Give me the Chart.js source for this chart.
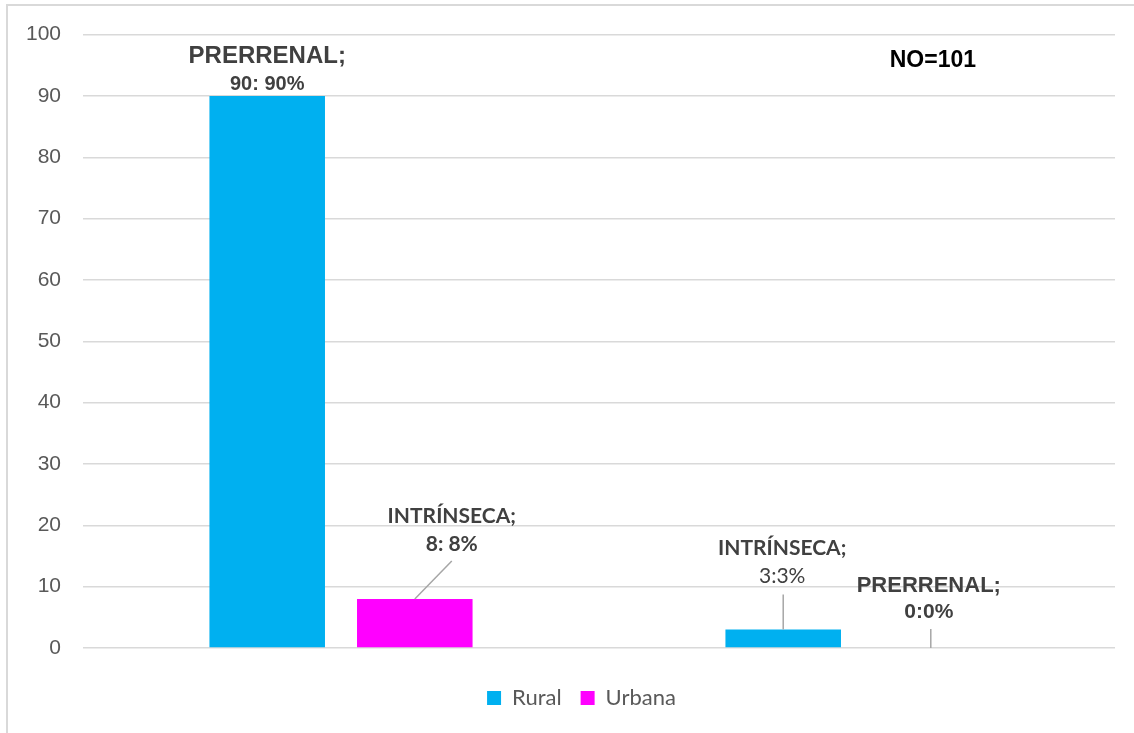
<!DOCTYPE html>
<html>
<head>
<meta charset="utf-8">
<script src="https://cdn.jsdelivr.net/npm/chart.js@4.4.1/dist/chart.umd.min.js"></script>
<style>
  html, body { margin: 0; padding: 0; background: #fff; overflow: hidden; }
  #wrap { position: relative; width: 1134px; height: 733px; }
  #frame {
    position: absolute; left: 6px; top: 4px; width: 1200px; height: 800px;
    border-left: 2px solid #d9d9d9; border-top: 2px solid #d9d9d9;
    pointer-events: none;
  }
</style>
</head>
<body>
<div id="wrap">
  <canvas id="chart" width="1134" height="733"></canvas>
  <div id="frame"></div>
</div>
<script>
  const grupos = ['Grupo 1', 'Grupo 2'];
  const rural = [90, 3];
  const urbana = [8, 0];
  const ruralPct = [90, 3];
  const urbanaPct = [8, 0];
  const ruralTipo = ['PRERRENAL', 'INTRÍNSECA'];
  const urbanaTipo = ['INTRÍNSECA', 'PRERRENAL'];
  const separador = [': ', ':'];
  const yTicks = [0, 10, 20, 30, 40, 50, 60, 70, 80, 90, 100];
  const nota = 'NO=101';

  const ARIAL = '"Liberation Sans", Arial, sans-serif';
  const CALIBRI = 'Lato, "Open Sans", sans-serif';
  const TXT = '#404040';

  // per-bar label styling: offsets from the bar top, fonts of both lines, leader line
  const labelStyle = [
    [ // Rural
      { dx: 0, dy1: -40, dy2: -11, f1: `bold 24px ${ARIAL}`, f2: `bold 20px ${ARIAL}`, lead: null },
      { dx: -1, dy1: -81, dy2: -53, f1: `bold 21px ${CALIBRI}`, f2: `21px ${CALIBRI}`, lead: [0, -35] },
    ],
    [ // Urbana
      { dx: 37, dy1: -83, dy2: -55, f1: `bold 21px ${CALIBRI}`, f2: `bold 21px ${CALIBRI}`, lead: [37, -38] },
      { dx: -2, dy1: -62, dy2: -36, f1: `bold 22px ${ARIAL}`, f2: `bold 21px ${ARIAL}`, lead: [0, -19] },
    ],
  ];

  const tipos = [ruralTipo, urbanaTipo];
  const pcts = [ruralPct, urbanaPct];

  const barLabels = {
    id: 'barLabels',
    afterLayout(chart) {
      // legend sits a little right of the canvas centre
      chart.legend.left += 24;
      chart.legend.right += 24;
    },
    afterDatasetsDraw(chart) {
      const ctx = chart.ctx;
      ctx.save();
      ctx.textAlign = 'center';
      ctx.textBaseline = 'middle';
      chart.data.datasets.forEach((ds, di) => {
        const meta = chart.getDatasetMeta(di);
        meta.data.forEach((bar, i) => {
          const st = labelStyle[di][i];
          const x = bar.x + st.dx;
          if (st.lead) {
            ctx.strokeStyle = '#a6a6a6';
            ctx.lineWidth = 1.5;
            ctx.beginPath();
            ctx.moveTo(bar.x + st.lead[0], bar.y + st.lead[1]);
            ctx.lineTo(bar.x, bar.y);
            ctx.stroke();
          }
          ctx.fillStyle = TXT;
          ctx.font = st.f1;
          ctx.fillText(tipos[di][i] + ';', x, bar.y + st.dy1);
          ctx.font = st.f2;
          ctx.fillText(ds.data[i] + separador[i] + pcts[di][i] + '%', x, bar.y + st.dy2);
        });
      });
      // sample size note, top right
      const area = chart.chartArea;
      ctx.fillStyle = '#000';
      ctx.font = `bold 23px ${ARIAL}`;
      ctx.fillText(nota, area.left + area.width * 0.8235, chart.scales.y.getPixelForValue(95.8));
      ctx.restore();
    }
  };

  new Chart(document.getElementById('chart'), {
    type: 'bar',
    data: {
      labels: grupos,
      datasets: [
        { label: 'Rural', data: rural, backgroundColor: '#00b0f0' },
        { label: 'Urbana', data: urbana, backgroundColor: '#ff00ff' },
      ],
    },
    options: {
      responsive: false, animation: false,
      layout: { padding: { left: 0, top: 34, right: 19, bottom: 14 } },
      datasets: { bar: { categoryPercentage: 0.572, barPercentage: 0.783 } },
      scales: {
        x: {
          ticks: { display: false },
          grid: { display: false },
          border: { display: false },
          afterFit(s) { s.height = 20; },
        },
        y: {
          min: 0, max: 100,
          afterFit(s) { s.width = 83; },
          afterBuildTicks(s) { s.ticks = yTicks.map(v => ({ value: v })); },
          ticks: { color: '#595959', padding: 22, font: { family: ARIAL, size: 21 } },
          grid: { color: '#d9d9d9', lineWidth: 1.5, drawTicks: false },
          border: { display: false },
        },
      },
      plugins: {
        legend: {
          position: 'bottom',
          labels: {
            boxWidth: 14, boxHeight: 14, padding: 19, color: '#595959',
            font: { family: CALIBRI, size: 22 },
          },
        },
        tooltip: { enabled: false },
      },
    },
    plugins: [barLabels],
  });
</script>
</body>
</html>
